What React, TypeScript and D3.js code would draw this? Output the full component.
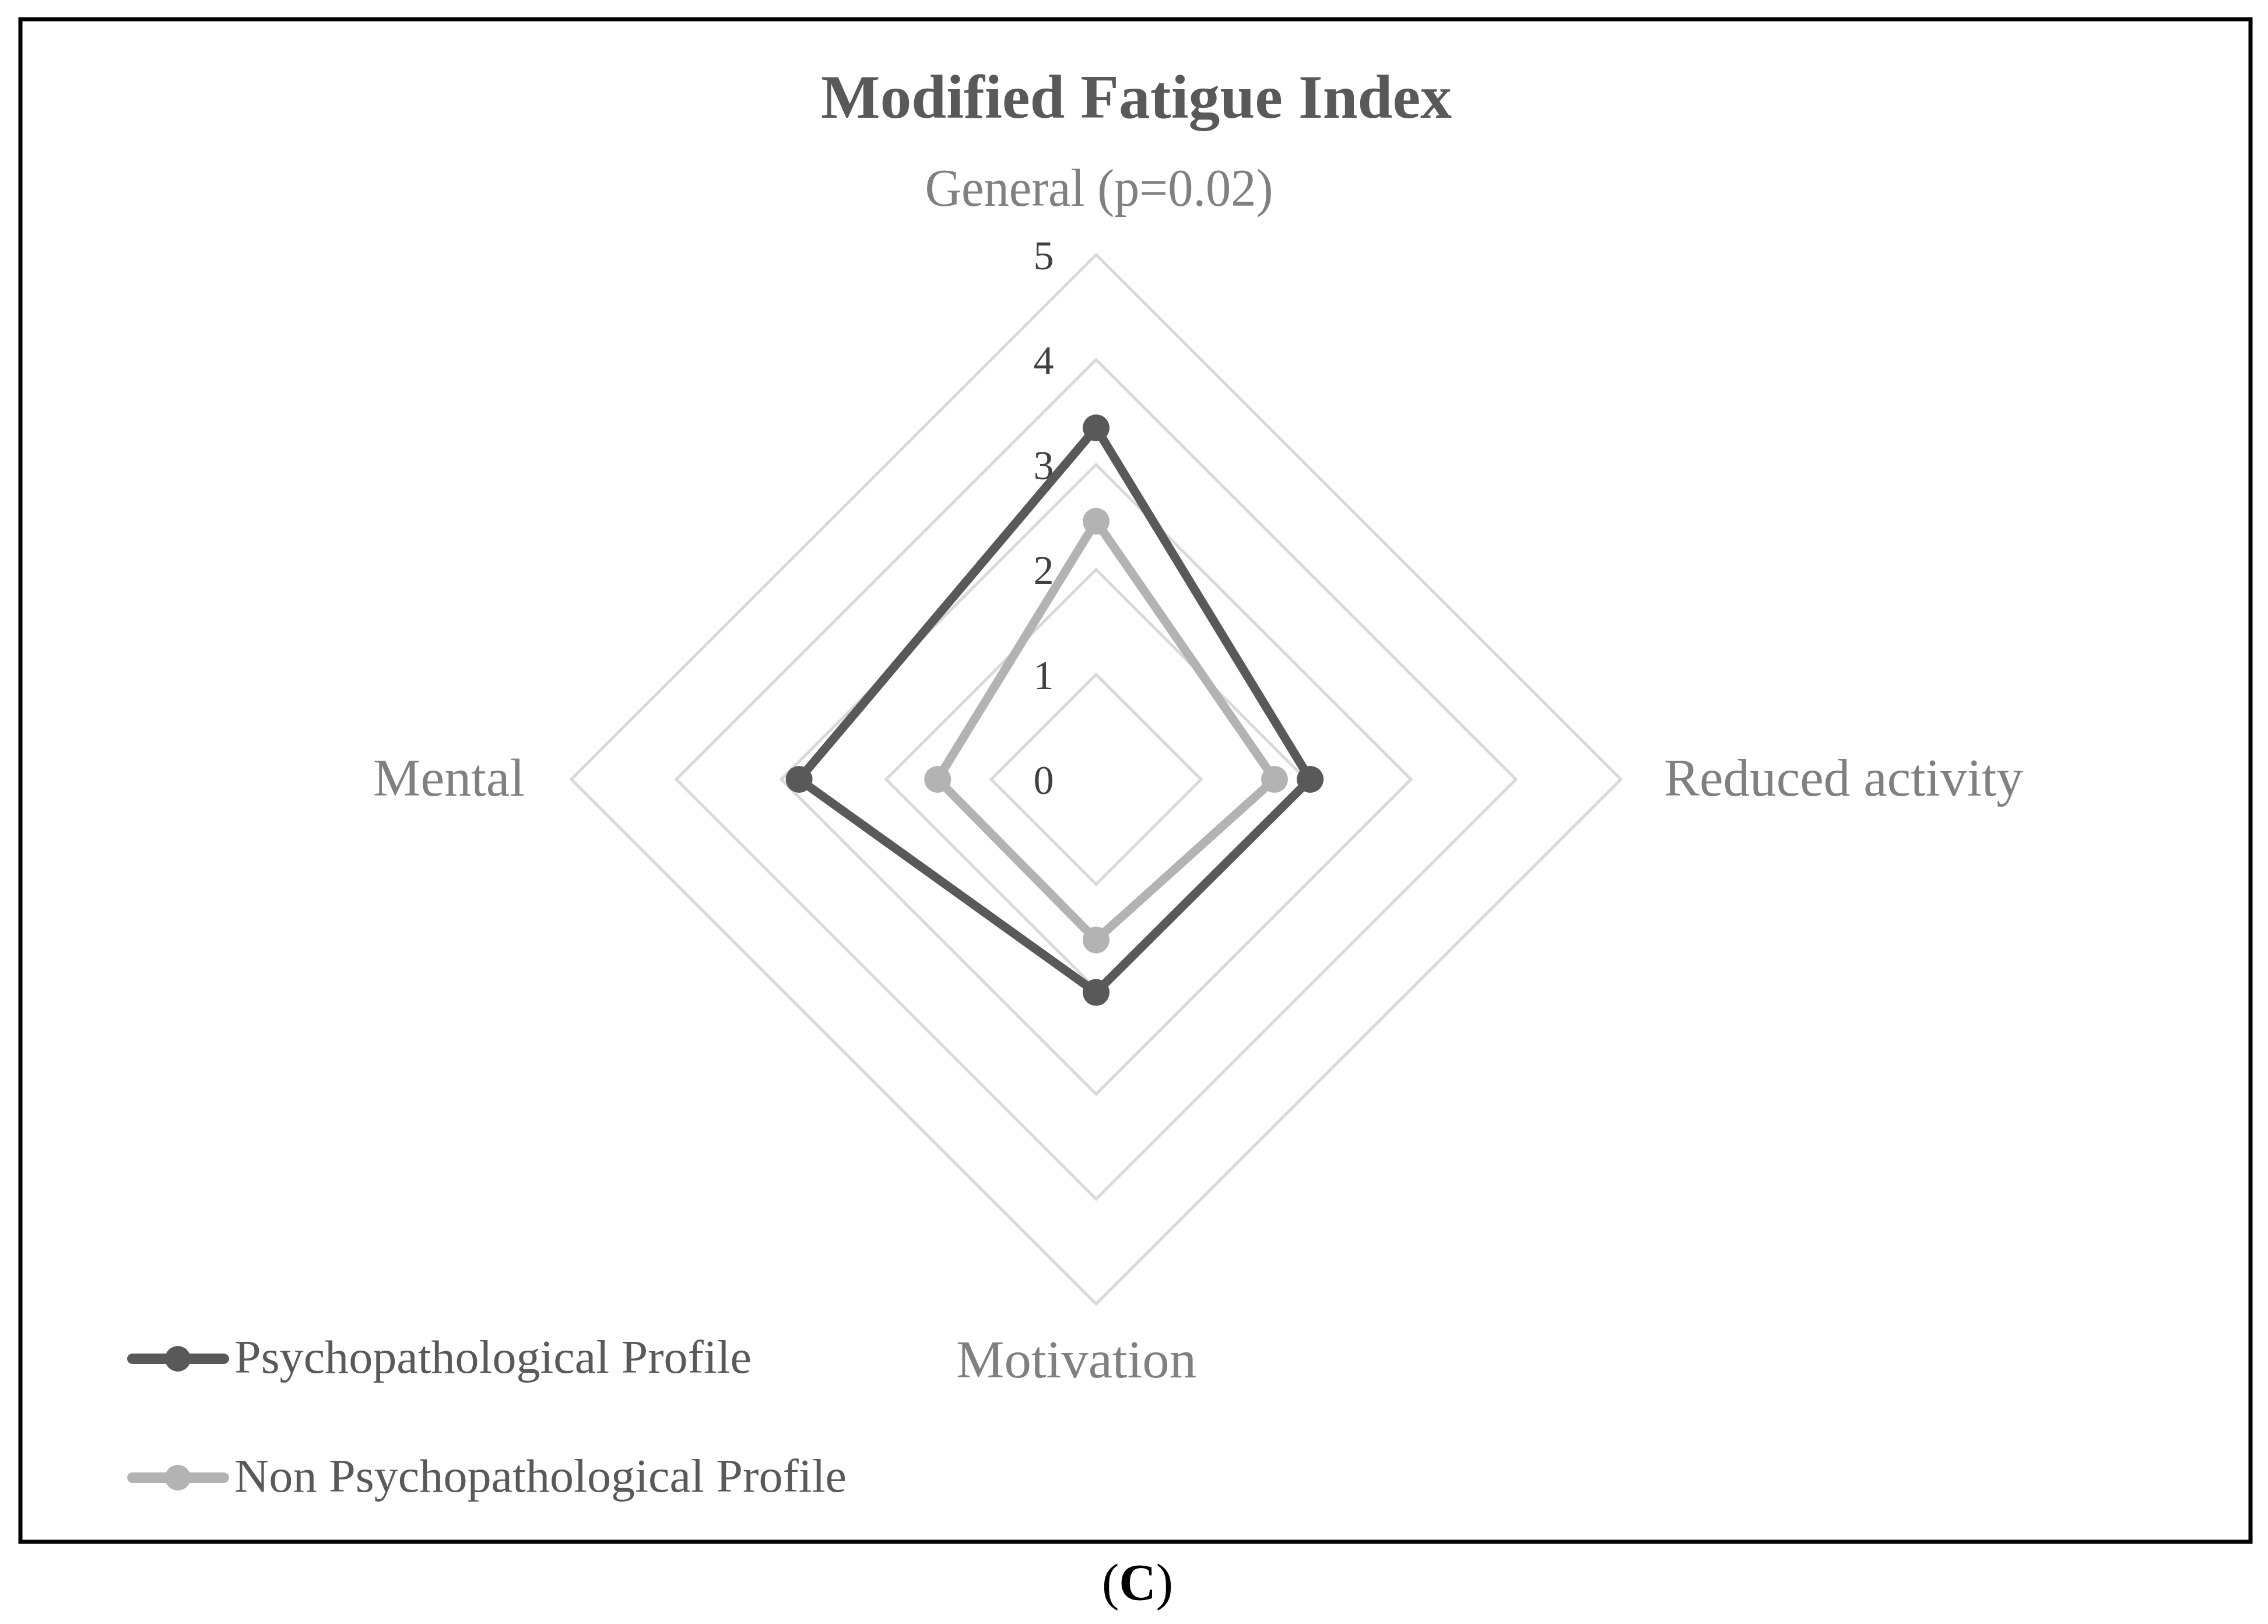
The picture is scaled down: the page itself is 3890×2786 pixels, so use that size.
import React from 'react';
import * as d3 from 'd3';

const categories = ['General (p=0.02)', 'Reduced activity', 'Motivation', 'Mental'];
const psychValues = [3.35, 2.04, 2.03, 2.83];
const nonPsychValues = [2.46, 1.7, 1.53, 1.51];
const tickValues = [0, 1, 2, 3, 4, 5];
const seriesNames = ['Psychopathological Profile', 'Non Psychopathological Profile'];
const seriesColors = ['#595959', '#b3b3b3'];

const W = 3890;
const H = 2786;
const cx = 1880;
const cy = 1337;
const font = '"Liberation Serif", "DejaVu Serif", serif';

const r = d3.scaleLinear().domain([0, 5]).range([0, 900]);
const angle = (i: number) => (i * 2 * Math.PI) / categories.length;

const radial = d3
  .lineRadial<number>()
  .angle((_: number, i: number) => angle(i))
  .radius((d: number) => r(d))
  .curve(d3.curveLinearClosed);

const point = (v: number, i: number): [number, number] => [
  cx + r(v) * Math.sin(angle(i)),
  cy - r(v) * Math.cos(angle(i)),
];

// label placement per axis: anchor, offsets, fitted width
const labelStyle = [
  { anchor: 'middle', dx: 5, dy: -84, w: 597 },
  { anchor: 'start', dx: 74, dy: 28, w: 616 },
  { anchor: 'middle', dx: -34, dy: 126, w: 412 },
  { anchor: 'end', dx: -80, dy: 28, w: 260 },
];

export default function App() {
  const series = [psychValues, nonPsychValues];
  const gridLevels = tickValues.filter((t) => t > 0);

  return (
    <svg
      width={W}
      height={H}
      style={{ position: 'absolute', left: 0, top: 0, background: '#fff' }}
    >
      <rect x={35} y={33} width={3825} height={2612} fill="#fff" stroke="#000" strokeWidth={7} />

      <text
        x={1949}
        y={202}
        textAnchor="middle"
        fontFamily={font}
        fontWeight="bold"
        fontSize={106}
        fill="#595959"
        textLength={1082}
        lengthAdjust="spacingAndGlyphs"
      >
        Modified Fatigue Index
      </text>

      <g transform={`translate(${cx},${cy})`}>
        {gridLevels.map((lv) => (
          <path
            key={lv}
            d={radial(categories.map(() => lv)) || ''}
            fill="none"
            stroke="#d9d9d9"
            strokeWidth={5}
          />
        ))}
      </g>

      {tickValues.map((t) => (
        <text
          key={t}
          x={cx - 90}
          y={cy - r(t)}
          dy="0.35em"
          textAnchor="middle"
          fontFamily={font}
          fontSize={70}
          fill="#404040"
        >
          {t}
        </text>
      ))}

      {categories.map((c, i) => {
        const [x, y] = point(5, i);
        const s = labelStyle[i];
        return (
          <text
            key={c}
            x={x + s.dx}
            y={y + s.dy}
            textAnchor={s.anchor}
            fontFamily={font}
            fontSize={90}
            fill="#808080"
            textLength={s.w}
            lengthAdjust="spacingAndGlyphs"
          >
            {c}
          </text>
        );
      })}

      <g transform={`translate(${cx},${cy})`}>
        {series.slice().reverse().map((vals, k) => {
          const idx = series.length - 1 - k;
          return (
            <g key={idx}>
              <path
                d={radial(vals) || ''}
                fill="none"
                stroke={seriesColors[idx]}
                strokeWidth={15}
                strokeLinejoin="round"
              />
              {vals.map((v, i) => {
                const [x, y] = point(v, i);
                return <circle key={i} cx={x - cx} cy={y - cy} r={23} fill={seriesColors[idx]} />;
              })}
            </g>
          );
        })}
      </g>

      {seriesNames.map((name, i) => {
        const ly = 2331 + i * 204;
        return (
          <g key={name}>
            <line
              x1={227}
              x2={384}
              y1={ly}
              y2={ly}
              stroke={seriesColors[i]}
              strokeWidth={18}
              strokeLinecap="round"
            />
            <circle cx={305} cy={ly} r={22} fill={seriesColors[i]} />
            <text
              x={402}
              y={ly + 24}
              fontFamily={font}
              fontSize={80}
              fill="#595959"
              textLength={i === 0 ? 887 : 1050}
              lengthAdjust="spacingAndGlyphs"
            >
              {name}
            </text>
          </g>
        );
      })}

      <text x={1951} y={2744} textAnchor="middle" fontFamily={font} fontSize={88} fill="#000">
        (<tspan fontWeight="bold">C</tspan>)
      </text>
    </svg>
  );
}
